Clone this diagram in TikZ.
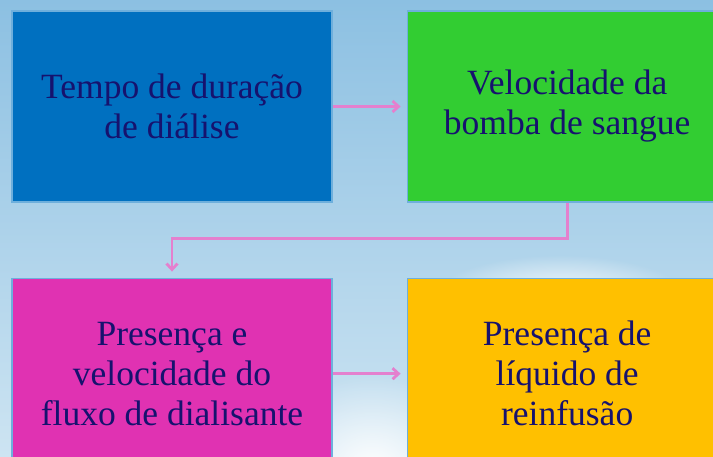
\documentclass[tikz,border=0pt]{standalone}
\usepackage{fontspec}
\setmainfont{Liberation Serif}
\newfontfamily\stagefont{Liberation Serif}
\usepackage{tikz}
\usetikzlibrary{arrows.meta, positioning, fadings}

\definecolor{skytop}{RGB}{140,192,226}
\definecolor{skybot}{RGB}{205,228,242}
\definecolor{boxblue}{RGB}{0,112,192}
\definecolor{boxgreen}{RGB}{50,205,50}
\definecolor{boxpink}{RGB}{224,50,178}
\definecolor{boxorange}{RGB}{255,192,0}
\definecolor{edgeblue}{RGB}{110,175,220}
\definecolor{inkblue}{RGB}{22,18,110}
\definecolor{linkpink}{RGB}{228,128,206}

\tikzfading[name=cloudfade, inner color=transparent!0, outer color=transparent!100]

\begin{document}
\begin{tikzpicture}[x=1pt, y=-1pt,
  stage/.style={rectangle, draw=edgeblue, line width=1.2pt, minimum width=320pt,
                minimum height=191pt, align=center,
                text=inkblue, font=\stagefont\fontsize{35.5}{40}\selectfont},
  link/.style={-{Straight Barb[length=6pt, width=11pt]}, linkpink, line width=2.8pt,
               shorten >=6pt}
]
  % Sky background
  \useasboundingbox (0,0) rectangle (713,457);
  \shade[top color=skytop, bottom color=skybot] (0,0) rectangle (713,457);
  \fill[white, path fading=cloudfade] (372,470) ellipse (110pt and 95pt);
  \fill[white, path fading=cloudfade] (560,300) ellipse (130pt and 45pt);

  % Stages
  \node[stage, fill=boxblue] (dur) at (172,106.5) {Tempo de duração\\de diálise};
  \node[stage, fill=boxgreen, right=74pt of dur] (pump) {Velocidade da\\bomba de sangue};
  \node[stage, fill=boxpink, below=75pt of dur] (flow) {Presença e\\velocidade do\\fluxo de dialisante};
  \node[stage, fill=boxorange, right=74pt of flow] (rein) {Presença de\\líquido de\\reinfusão};

  % Links
  \draw[link] (dur) -- (pump);
  \draw[link] (pump.south) -- ++(0,36) -| (flow.north);
  \draw[link] (flow) -- (rein);
\end{tikzpicture}
\end{document}
